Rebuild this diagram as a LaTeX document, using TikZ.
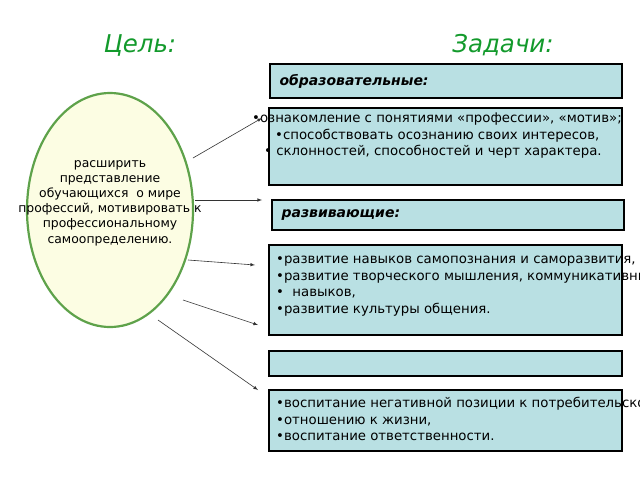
\documentclass[tikz,border=0pt]{standalone}
\usepackage{fontspec}
\setmainfont{DejaVu Sans}
\usetikzlibrary{shapes.geometric}
\definecolor{boxc}{HTML}{B9E0E3}
\definecolor{ttl}{HTML}{139A2C}
\definecolor{ell}{HTML}{FCFDE3}
\definecolor{elb}{HTML}{5EA24A}
\begin{document}
\begin{tikzpicture}[x=1pt,y=-1pt,
 bx/.style={draw=black,line width=1.8pt,fill=boxc},
 tx/.style={anchor=north west,inner sep=0pt,font=\fontsize{13.3}{16.5}\selectfont,align=left},
 lb/.style={anchor=west,font=\fontsize{14}{16}\selectfont\bfseries\itshape},
 tt/.style={font=\fontsize{24.5}{28}\selectfont\itshape,text=ttl},
 arr/.style={-latex,line width=0.6pt,draw=black!80}]
\useasboundingbox[fill=white] (0,0) rectangle (640,480);
\node[tt] (t1) at (140,45) {Цель:};
\node[tt] (t2) at (503,45) {Задачи:};
\draw[bx] (270,64) rectangle (622,98);
\node[lb] (l1) at (276,81) {образовательные:};
\draw[bx] (269,108) rectangle (622,185);
\coordinate (b2) at (262,118);
\node[tx] (x2) at (252,113) {•ознакомление с понятиями «профессии», «мотив»;\\\hspace{23pt}•способствовать осознанию своих интересов,\\\hspace{12pt}• склонностей, способностей и черт характера.};
\draw[bx] (272,200) rectangle (624,230);
\node[lb] (l3) at (278,215) {развивающие:};
\draw[bx] (269,245) rectangle (622,335);
\node[tx] (x4) at (276,256) {•развитие навыков самопознания и саморазвития,\\•развитие творческого мышления, коммуникативных\\• \ навыков,\\•развитие культуры общения.};
\draw[bx] (269,351) rectangle (622,376);
\draw[bx] (269,390) rectangle (622,451);
\node[tx] (x6) at (276,397) {•воспитание негативной позиции к потребительскому\\•отношению к жизни,\\•воспитание ответственности.};
\node[draw=elb,line width=2.2pt,fill=ell,ellipse,minimum width=166pt,minimum height=234pt,inner sep=0pt] (e) at (110,210) {};
\node[align=center,font=\fontsize{12.4}{15.2}\selectfont] (et) at (110,203) {расширить\\представление\\обучающихся \ о мире\\профессий, мотивировать к\\профессиональному\\самоопределению.};
\coordinate (a1) at (193,158); \coordinate (a2) at (195,200); \coordinate (a3) at (188,260);
\coordinate (a4) at (183,300); \coordinate (a5) at (158,320);
\coordinate (c2) at (262,200); \coordinate (c3) at (255,265); \coordinate (c4) at (258,325); \coordinate (c5) at (258,390);
\draw[arr] (a1) -- (b2);
\draw[arr] (a2) -- (c2);
\draw[arr] (a3) -- (c3);
\draw[arr] (a4) -- (c4);
\draw[arr] (a5) -- (c5);
\end{tikzpicture}
\end{document}
